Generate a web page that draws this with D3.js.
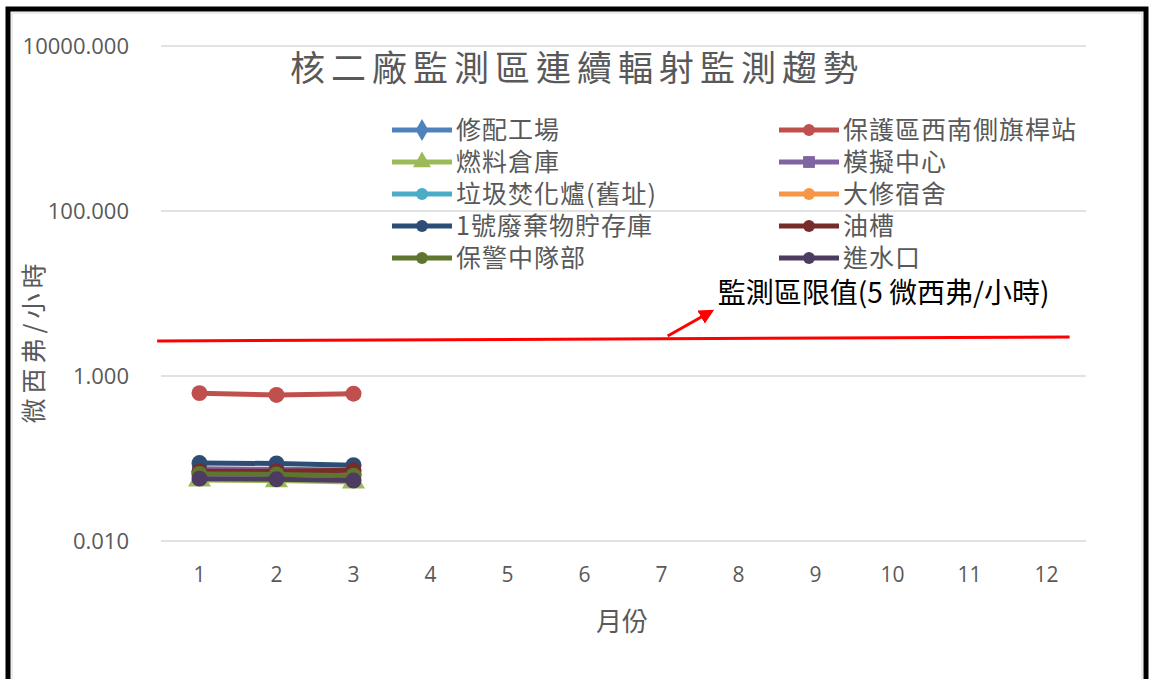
<!DOCTYPE html>
<html>
<head>
<meta charset="utf-8">
<script src="https://cdn.jsdelivr.net/npm/d3@7"></script>
<style>
  body { margin: 0; background: #fff; }
  text { font-family: "Noto Sans CJK TC", "Open Sans", sans-serif; }
</style>
</head>
<body>
<script>
// chart data

var months = ["1", "2", "3", "4", "5", "6", "7", "8", "9", "10", "11", "12"];
var yTicks = [0.01, 1, 100, 10000];

var names = ["修配工場", "保護區西南側旗桿站", "燃料倉庫", "模擬中心", "垃圾焚化爐(舊址)",
             "大修宿舍", "1號廢棄物貯存庫", "油槽", "保警中隊部", "進水口"];
var colors = ["#4F81BD", "#C0504D", "#9BBB59", "#8064A2", "#4BACC6",
              "#F79646", "#2C4D75", "#772C2A", "#5F7530", "#4D3B62"];
var symbols = ["diamond", "circle", "triangle", "square", "circle",
               "circle", "circle", "circle", "circle", "circle"];

// values for months 1..3 (rest not yet measured)
var v_xiupei   = [0.068, 0.067, 0.066];
var v_baohu    = [0.62, 0.59, 0.61];
var v_ranliao  = [0.055, 0.054, 0.052];
var v_moni     = [0.075, 0.074, 0.072];
var v_laji     = [0.066, 0.065, 0.064];
var v_daxiu    = [0.067, 0.066, 0.065];
var v_feiqi    = [0.088, 0.087, 0.083];
var v_youcao   = [0.070, 0.070, 0.072];
var v_baojing  = [0.065, 0.064, 0.062];
var v_jinshui  = [0.057, 0.056, 0.054];
var seriesValues = [v_xiupei, v_baohu, v_ranliao, v_moni, v_laji,
                    v_daxiu, v_feiqi, v_youcao, v_baojing, v_jinshui];

// hand drawn limit line + arrow (month position, value)
var limitLine = [[0.45, 2.66], [12.3, 2.97]];
var limitArrow = [[7.08, 3.05], [7.65, 6.1]];
var limitLabelPos = [7.73, 7.7];
var limitLabel = "監測區限值(5 微西弗/小時)";

var W = 1149, H = 679;
var svg = d3.select("body").append("svg")
    .attr("width", W)
    .attr("height", H);

// frame
svg.append("rect")
    .attr("x", 8).attr("y", 9)
    .attr("width", 1138).attr("height", 720)
    .attr("fill", "none")
    .attr("stroke", "#000")
    .attr("stroke-width", 5);
svg.append("rect")
    .attr("x", 12).attr("y", 13)
    .attr("width", 1130).attr("height", 720)
    .attr("fill", "none")
    .attr("stroke", "#D9D9D9")
    .attr("stroke-width", 1);

var plotLeft = 161, plotRight = 1085, plotTop = 46, plotBottom = 541;

var x = d3.scaleBand().domain(months).range([plotLeft, plotRight]);
var xc = function (m) { return x(m) + x.bandwidth() / 2; };
// continuous month scale for the annotation
var xm = d3.scaleLinear().domain([1, 12]).range([xc("1"), xc("12")]);
var y = d3.scaleLog().domain([0.01, 10000]).range([plotBottom, plotTop]);

// gridlines
svg.append("g")
    .selectAll("line")
    .data(yTicks)
    .enter().append("line")
    .attr("x1", plotLeft).attr("x2", plotRight + 1)
    .attr("y1", function (d) { return y(d); })
    .attr("y2", function (d) { return y(d); })
    .attr("stroke", "#D9D9D9")
    .attr("stroke-width", 1.3);

// y axis labels
var yAxis = d3.axisLeft(y).tickValues(yTicks).tickFormat(d3.format(".3f")).tickSize(0).tickPadding(0);
var gy = svg.append("g").attr("transform", "translate(129,0)").call(yAxis);
gy.select(".domain").remove();
gy.selectAll("text")
    .attr("fill", "#595959")
    .style("font-family", "'Open Sans', sans-serif")
    .style("font-size", "22px");

// x axis labels
var xAxis = d3.axisBottom(x).tickSize(0).tickPadding(0);
var gx = svg.append("g").attr("transform", "translate(0,567)").call(xAxis);
gx.select(".domain").remove();
gx.selectAll("text")
    .attr("fill", "#595959")
    .style("font-family", "'Open Sans', sans-serif")
    .style("font-size", "21px");

// axis titles
svg.append("text")
    .attr("x", 622).attr("y", 631)
    .attr("text-anchor", "middle")
    .attr("fill", "#595959")
    .style("font-size", "26px")
    .text("月份");

svg.append("text")
    .attr("transform", "translate(43,341) rotate(-90)")
    .attr("text-anchor", "middle")
    .attr("fill", "#595959")
    .style("font-size", "25px")
    .style("letter-spacing", "5px")
    .text("微西弗/小時");

// title
svg.append("text")
    .attr("x", 577).attr("y", 81)
    .attr("text-anchor", "middle")
    .attr("fill", "#595959")
    .style("font-size", "35px")
    .style("letter-spacing", "6px")
    .text("核二廠監測區連續輻射監測趨勢");

// series
var line = d3.line()
    .x(function (d, i) { return xc(months[i]); })
    .y(function (d) { return y(d); });

var symbolType = {
    diamond: d3.symbolDiamond,
    circle: d3.symbolCircle,
    triangle: d3.symbolTriangle,
    square: d3.symbolSquare
};

seriesValues.forEach(function (vals, s) {
    var g = svg.append("g");
    g.append("path")
        .attr("d", line(vals))
        .attr("fill", "none")
        .attr("stroke", colors[s])
        .attr("stroke-width", 5);
    g.selectAll("path.pt")
        .data(vals)
        .enter().append("path")
        .attr("class", "pt")
        .attr("transform", function (d, i) { return "translate(" + xc(months[i]) + "," + y(d) + ")"; })
        .attr("d", d3.symbol().type(symbolType[symbols[s]]).size(symbols[s] == "circle" ? 200 : 230))
        .attr("fill", colors[s]);
});

// legend
var legend = svg.append("g");
names.forEach(function (n, i) {
    var col = i % 2, row = Math.floor(i / 2);
    var lx = col == 0 ? 392 : 779;
    var ly = 130 + row * 32;
    var g = legend.append("g").attr("transform", "translate(" + lx + "," + ly + ")");
    g.append("line")
        .attr("x1", 0).attr("x2", 60)
        .attr("stroke", colors[i])
        .attr("stroke-width", 5);
    g.append("path")
        .attr("transform", "translate(30,0)")
        .attr("d", d3.symbol().type(symbolType[symbols[i]]).size(symbols[i] == "circle" ? 110 : 140))
        .attr("fill", colors[i]);
    g.append("text")
        .attr("x", 64).attr("y", 9)
        .attr("fill", "#595959")
        .style("font-size", "25px")
        .style("letter-spacing", "1px")
        .text(n);
});

// limit annotation
svg.append("defs").append("marker")
    .attr("id", "arrow")
    .attr("viewBox", "0 0 10 10")
    .attr("refX", 8).attr("refY", 5)
    .attr("markerWidth", 5).attr("markerHeight", 5)
    .attr("orient", "auto")
    .append("path")
    .attr("d", "M0,0L10,5L0,10z")
    .attr("fill", "#FF0000");

var lineXY = d3.line()
    .x(function (d) { return xm(d[0]); })
    .y(function (d) { return y(d[1]); });

svg.append("path")
    .attr("d", lineXY(limitLine))
    .attr("stroke", "#FF0000")
    .attr("stroke-width", 3)
    .attr("fill", "none");

svg.append("path")
    .attr("d", lineXY(limitArrow))
    .attr("stroke", "#FF0000")
    .attr("stroke-width", 3)
    .attr("fill", "none")
    .attr("marker-end", "url(#arrow)");

svg.append("text")
    .attr("x", xm(limitLabelPos[0]))
    .attr("y", y(limitLabelPos[1]))
    .attr("fill", "#000")
    .style("font-size", "28px")
    .text(limitLabel);
</script>
</body>
</html>
